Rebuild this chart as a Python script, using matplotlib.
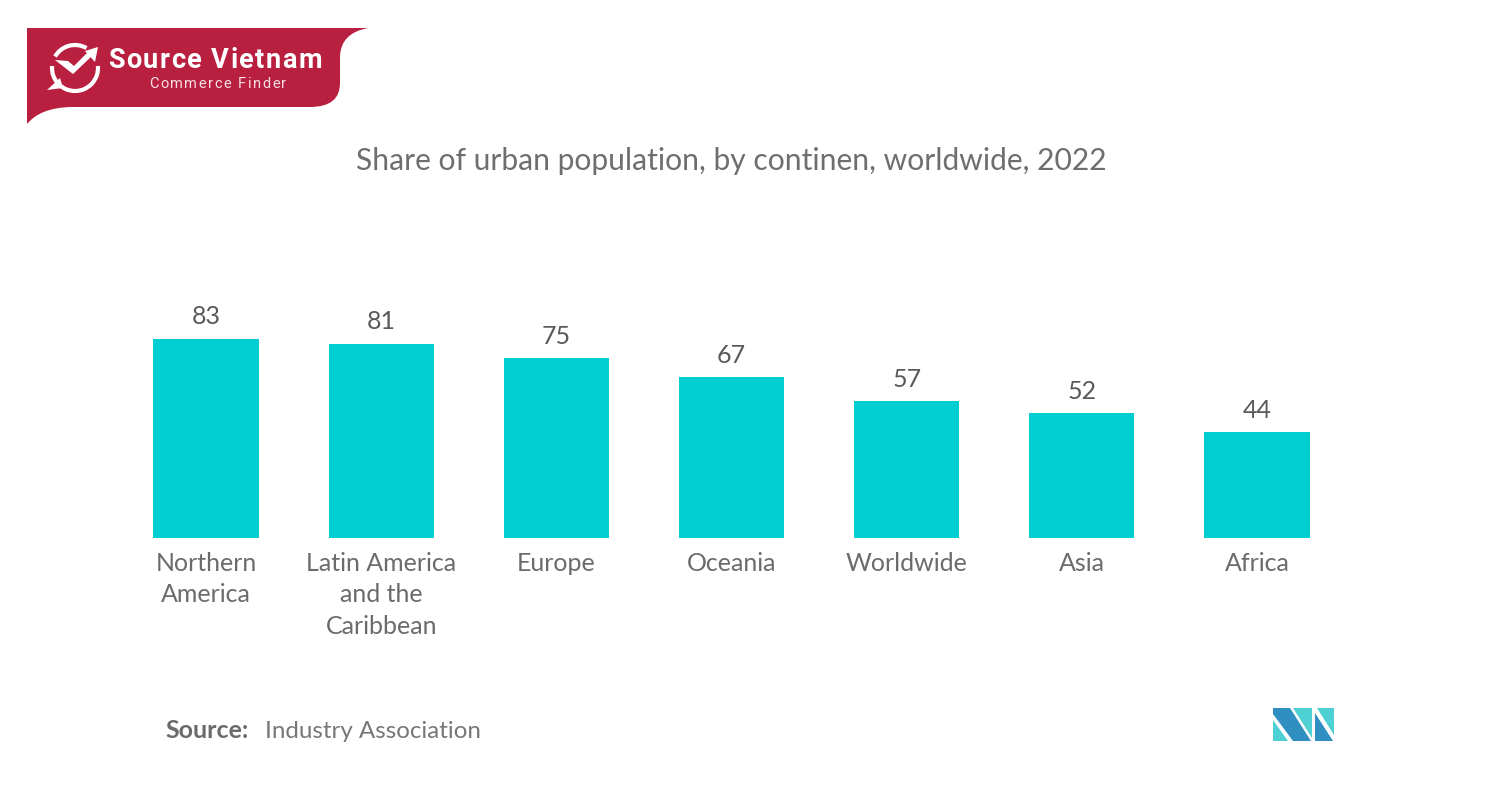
import matplotlib
matplotlib.use("Agg")
import matplotlib.pyplot as plt
from matplotlib.font_manager import FontProperties
from matplotlib.patches import PathPatch, Polygon, Arc
from matplotlib.path import Path
from matplotlib.textpath import TextPath

plt.rcParams['font.family'] = ['Lato', 'DejaVu Sans']

categories = ["Northern\nAmerica", "Latin America\nand the\nCaribbean", "Europe",
              "Oceania", "Worldwide", "Asia", "Africa"]
values = [83, 81, 75, 67, 57, 52, 44]

W, H = 1500, 800
fig = plt.figure(figsize=(15, 8), dpi=100)

# main bars
ax = fig.add_axes([118.4 / W, 1 - 538 / H, 1226.2 / W, 240 / H])
xs = range(len(values))
bars = ax.bar(xs, values, width=0.6, color="#00ced1")
ax.set_xlim(-0.5, 6.5)
ax.set_ylim(0, 100)
ax.set_yticks([])
ax.set_xticks(list(xs))
ax.set_xticklabels(categories, fontsize=18, color="#6b6b6b", linespacing=1.45)
ax.tick_params(axis="x", length=0, pad=10)
for s in ax.spines.values():
    s.set_visible(False)
for b, v in zip(bars, values):
    ax.annotate(str(v), (b.get_x() + b.get_width() / 2, v), xytext=(0, 7.5),
                textcoords="offset points", ha="center", va="bottom",
                fontsize=18, color="#595959")

# overlay in pixel coords for title, footer and logos
ov = fig.add_axes([0, 0, 1, 1], zorder=5)
ov.set_xlim(0, W)
ov.set_ylim(H, 0)
ov.axis("off")

ov.text(731, 161, "Share of urban population, by continen, worldwide, 2022",
        fontsize=21.65, color="#6e6e6e", ha="center", va="center")
ov.text(165, 731, "Source:", fontsize=18, color="#6b6b6b", weight="bold", ha="left", va="center")
ov.text(265, 731, "Industry Association", fontsize=17.4, color="#777777", ha="left", va="center")


def spaced_text(x, y, s, size, spacing, color, weight="normal"):
    # matplotlib has no letter spacing, so place the glyphs one by one
    fp = FontProperties(family="Roboto", weight=weight, size=size)
    dot = TextPath((0, 0), ".", prop=fp).get_extents().x1
    for i, ch in enumerate(s):
        # trailing dot so a prefix ending in a space still measures right
        adv = TextPath((0, 0), s[:i] + ".", prop=fp).get_extents().x1 - dot
        ov.text(x + adv * 100 / 72 + spacing * i, y, ch, fontproperties=fp, color=color,
                ha="left", va="baseline")


# Source Vietnam banner
banner = Path(
    [(27, 28), (368, 28), (341, 33), (340, 56), (340, 83), (340, 107), (310, 107),
     (70, 107), (40, 108), (27, 124), (27, 28)],
    [Path.MOVETO, Path.LINETO, Path.CURVE3, Path.CURVE3, Path.LINETO, Path.CURVE3, Path.CURVE3,
     Path.LINETO, Path.CURVE3, Path.CURVE3, Path.CLOSEPOLY])
ov.add_patch(PathPatch(banner, fc="#b92040", ec="none"))
spaced_text(108, 68, "Source Vietnam", 19.5, 1.5, "white", weight="bold")
spaced_text(149, 88, "Commerce Finder", 10.5, 1.55, "#f6dfe4")

ov.add_patch(Arc((75, 68), 46, 46, theta1=210, theta2=300, ec="white", lw=3))
ov.add_patch(Arc((75, 68), 46, 46, theta1=-5, theta2=185, ec="white", lw=3))
ov.add_patch(Polygon([(55, 60), (68, 61), (74, 66), (90, 50), (94, 54), (73, 74)], fc="white", ec="none"))
ov.add_patch(Polygon([(98, 47), (85, 51), (95, 62)], fc="white", ec="none"))
ov.add_patch(Polygon([(47, 90), (60, 78), (63, 88)], fc="white", ec="none"))

# small MI logo
ov.add_patch(Polygon([(1273, 708), (1290, 708), (1311, 741), (1293, 741), (1273, 714)], fc="#2e8fc0", ec="none"))
ov.add_patch(Polygon([(1273, 720), (1288, 741), (1273, 741)], fc="#4fd0d4", ec="none"))
ov.add_patch(Polygon([(1293, 708), (1312, 708), (1312, 738)], fc="#4fd0d4", ec="none"))
ov.add_patch(Polygon([(1317, 708), (1334, 708), (1334, 735)], fc="#4fd0d4", ec="none"))
ov.add_patch(Polygon([(1315, 713), (1333, 741), (1315, 741)], fc="#2e8fc0", ec="none"))

fig.savefig("out.png", dpi=100)
